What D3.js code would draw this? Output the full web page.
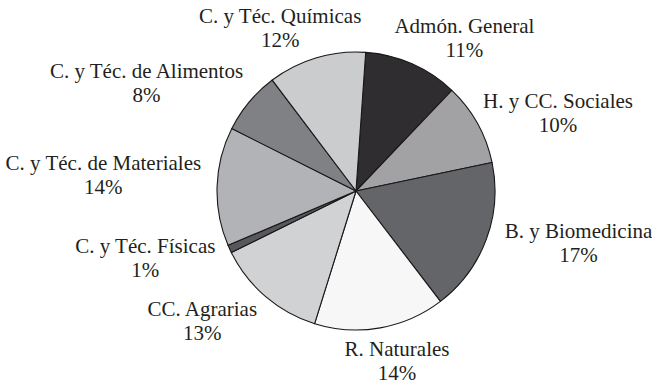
<!DOCTYPE html>
<html>
<head>
<meta charset="utf-8">
<script src="https://cdn.jsdelivr.net/npm/d3@7"></script>
<style>
  html, body { margin: 0; padding: 0; background: #fff; }
</style>
</head>
<body>
<div id="chart"></div>
<script>
// chart data (clockwise from the top)
const categories = [
  "Admón. General", "H. y CC. Sociales", "B. y Biomedicina", "R. Naturales",
  "CC. Agrarias", "C. y Téc. Físicas", "C. y Téc. de Materiales",
  "C. y Téc. de Alimentos", "C. y Téc. Químicas"
];
// slice shares as drawn (the printed labels are rounded differently)
const shares = [11.0, 9.6, 17.9, 15.2, 12.9, 0.9, 13.8, 7.3, 11.4];
const pctLabels = ["11%", "10%", "17%", "14%", "13%", "1%", "14%", "8%", "12%"];
const fills = ["#2f2d2f", "#a2a2a5", "#646569", "#f7f7f7", "#d1d2d4",
               "#58585c", "#b2b3b6", "#808185", "#cbcccd"];

// layout
const width = 652, height = 383;
const cx = 356, cy = 191, radius = 139;
const startAngle = 4 * Math.PI / 180;
const labelGap = 15;      // distance of label box from the rim
const lineHeight = 24;
const fontSize = 21;
const fontFamily = "Liberation Serif";
// small hand nudges so labels sit where the original put them
const labelNudge = [[18, 11], [2, 10], [9, -8], [5, -2], [-18, -3],
                    [-7, -5], [-1, -8], [-17, 7], [-9, 9]];

const svg = d3.select("#chart").append("svg")
  .attr("width", width)
  .attr("height", height);

const g = svg.append("g").attr("transform", `translate(${cx},${cy})`);

const pie = d3.pie()
  .sort(null)
  .value(d => d)
  .startAngle(startAngle)
  .endAngle(startAngle + 2 * Math.PI);

const arcs = pie(shares);

const arc = d3.arc().innerRadius(0).outerRadius(radius);

g.selectAll("path.slice")
  .data(arcs)
  .enter()
  .append("path")
  .attr("class", "slice")
  .attr("d", arc)
  .attr("fill", (d, i) => fills[i])
  .attr("stroke", "#1a1718")
  .attr("stroke-width", 1.1)
  .attr("stroke-linejoin", "round");

// labels: box sits just outside the rim along the mid angle
const labels = g.selectAll("g.label")
  .data(arcs)
  .enter()
  .append("g")
  .attr("class", "label");

labels.append("text")
  .attr("class", "name")
  .attr("text-anchor", "middle")
  .attr("font-family", fontFamily)
  .attr("font-size", fontSize)
  .attr("fill", "#231f20")
  .text((d, i) => categories[i]);

labels.append("text")
  .attr("class", "pct")
  .attr("text-anchor", "middle")
  .attr("font-family", fontFamily)
  .attr("font-size", fontSize)
  .attr("fill", "#231f20")
  .text((d, i) => pctLabels[i]);

labels.each(function (d, i) {
  const sel = d3.select(this);
  const w = Math.max(
    sel.select("text.name").node().getComputedTextLength(),
    sel.select("text.pct").node().getComputedTextLength()
  );
  const h = lineHeight * 2 - 2;
  const a = (d.startAngle + d.endAngle) / 2;
  const px = Math.sin(a) * (radius + labelGap);
  const py = -Math.cos(a) * (radius + labelGap);
  const bx = px + Math.sin(a) * w / 2 + labelNudge[i][0];
  const by = py - Math.cos(a) * h / 2 + labelNudge[i][1];
  const top = by - h / 2;
  sel.select("text.name").attr("x", bx).attr("y", top + 16);
  sel.select("text.pct").attr("x", bx).attr("y", top + 16 + lineHeight);
});
</script>
</body>
</html>
